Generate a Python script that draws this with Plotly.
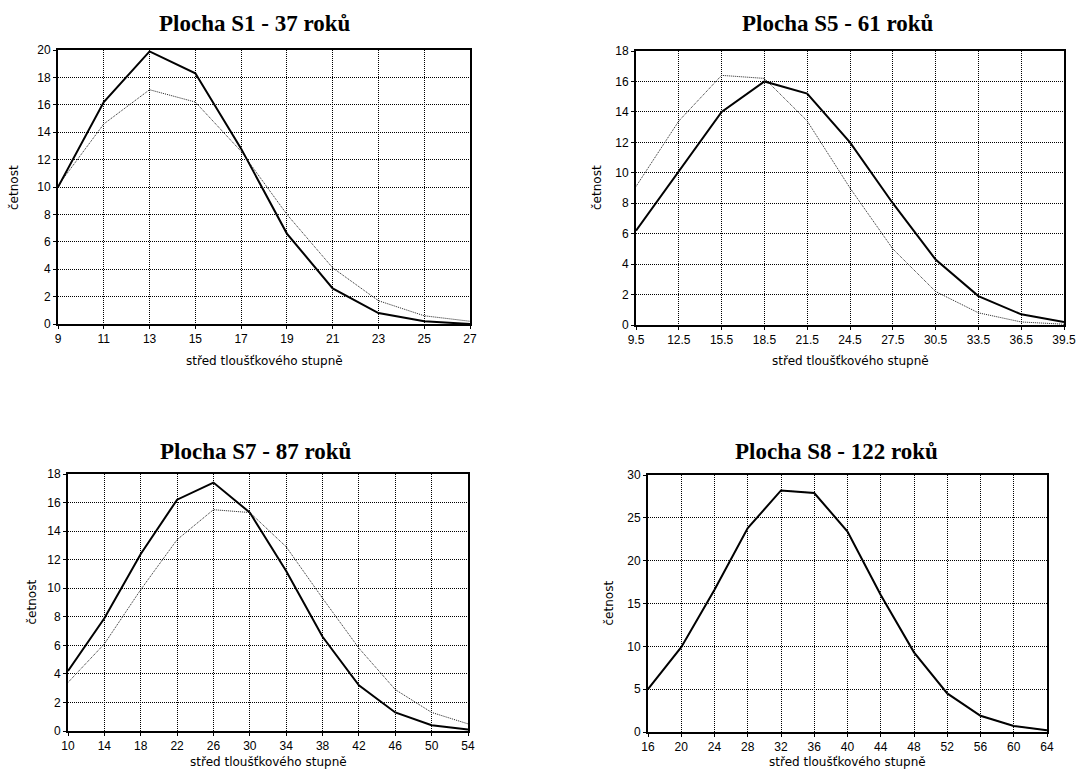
import plotly.graph_objects as go

# ---- data ----
s1_x = [9, 11, 13, 15, 17, 19, 21, 23, 25, 27]
s1_obs = [10.0, 16.2, 19.9, 18.3, 12.8, 6.6, 2.6, 0.8, 0.2, 0.0]
s1_fit = [10.1, 14.6, 17.1, 16.2, 12.6, 8.0, 4.1, 1.7, 0.6, 0.2]

s5_x = [9.5, 12.5, 15.5, 18.5, 21.5, 24.5, 27.5, 30.5, 33.5, 36.5, 39.5]
s5_obs = [6.2, 10.1, 14.0, 16.0, 15.2, 12.0, 8.0, 4.3, 1.9, 0.7, 0.2]
s5_fit = [9.1, 13.4, 16.4, 16.2, 13.4, 9.0, 5.0, 2.2, 0.8, 0.2, 0.05]

s7_x = [10, 14, 18, 22, 26, 30, 34, 38, 42, 46, 50, 54]
s7_obs = [4.2, 7.9, 12.4, 16.2, 17.4, 15.3, 11.2, 6.6, 3.2, 1.3, 0.4, 0.1]
s7_fit = [3.4, 6.1, 9.9, 13.4, 15.5, 15.3, 12.9, 9.3, 5.8, 2.9, 1.3, 0.5]

s8_x = [16, 20, 24, 28, 32, 36, 40, 44, 48, 52, 56, 60, 64]
s8_obs = [5.0, 9.9, 16.6, 23.8, 28.2, 27.9, 23.4, 16.0, 9.3, 4.5, 1.9, 0.7, 0.2]
s8_fit = [5.0, 9.9, 16.6, 23.8, 28.2, 27.9, 23.4, 16.0, 9.3, 4.5, 1.9, 0.7, 0.2]

titles = ["Plocha S1 - 37 roků", "Plocha S5 - 61 roků",
          "Plocha S7 - 87 roků", "Plocha S8 - 122 roků"]
x_label = "střed tloušťkového stupně"
y_label = "četnost"

W, H = 1077, 769

def px(v):
    return v / W

def py(v):
    return 1 - v / H

panels = [
    dict(x=s1_x, obs=s1_obs, fit=s1_fit, xd=(58, 470), yd=(50, 324),
         xr=(9, 27), yr=(0, 20), ydt=2, xticks=s1_x,
         ytitle_x=14, title_x=254, title_y=23, xt_y=361),
    dict(x=s5_x, obs=s5_obs, fit=s5_fit, xd=(636, 1064), yd=(51, 325),
         xr=(9.5, 39.5), yr=(0, 18), ydt=2, xticks=s5_x,
         ytitle_x=597, title_y=23, title_x=838, xt_y=361),
    dict(x=s7_x, obs=s7_obs, fit=s7_fit, xd=(68, 468), yd=(474, 731),
         xr=(10, 54), yr=(0, 18), ydt=2, xticks=s7_x,
         ytitle_x=31, title_x=255, title_y=451, xt_y=762),
    dict(x=s8_x, obs=s8_obs, fit=s8_fit, xd=(648, 1047), yd=(475, 732),
         xr=(16, 64), yr=(0, 30), ydt=5, xticks=s8_x,
         ytitle_x=608, title_x=836, title_y=451, xt_y=762),
]

fig = go.Figure()
annotations = []
layout = {}
tick_font = dict(family="Liberation Sans, Arial, sans-serif", size=12, color="black")
label_font = dict(family="DejaVu Sans, sans-serif", size=12, color="black")
grid_dash = "1px,1px"

for i, p in enumerate(panels):
    n = "" if i == 0 else str(i + 1)
    xa = "x" + n
    ya = "y" + n
    fig.add_trace(go.Scatter(x=p["x"], y=p["fit"], mode="lines", xaxis=xa, yaxis=ya,
                             line=dict(color="#222222", width=1, dash="1px,1px"),
                             showlegend=False))
    fig.add_trace(go.Scatter(x=p["x"], y=p["obs"], mode="lines", xaxis=xa, yaxis=ya,
                             line=dict(color="black", width=2), showlegend=False))
    layout["xaxis" + n] = dict(
        domain=[px(p["xd"][0]), px(p["xd"][1])], anchor=ya, range=list(p["xr"]),
        tickmode="array", tickvals=p["xticks"], ticktext=[str(v) for v in p["xticks"]],
        showgrid=True, gridcolor="black", gridwidth=1, griddash=grid_dash,
        showline=True, linecolor="black", linewidth=2, mirror=True,
        ticks="outside", ticklen=3, tickcolor="black", tickfont=tick_font,
        zeroline=False, fixedrange=True)
    layout["yaxis" + n] = dict(
        domain=[py(p["yd"][1]), py(p["yd"][0])], anchor=xa, range=list(p["yr"]),
        dtick=p["ydt"], tick0=0,
        showgrid=True, gridcolor="black", gridwidth=1, griddash=grid_dash,
        showline=True, linecolor="black", linewidth=2, mirror=True,
        ticks="outside", ticklen=3, tickcolor="black", tickfont=tick_font,
        zeroline=False, fixedrange=True)
    cx = (p["xd"][0] + p["xd"][1]) / 2
    annotations.append(dict(text="<b>" + titles[i] + "</b>", x=px(p["title_x"]), y=py(p["title_y"]),
                            xref="paper", yref="paper", showarrow=False,
                            xanchor="center", yanchor="middle",
                            font=dict(family="Liberation Serif, Times New Roman, serif",
                                      size=23, color="black")))
    annotations.append(dict(text=x_label, x=px(cx), y=py(p["xt_y"]),
                            xref="paper", yref="paper", showarrow=False,
                            xanchor="center", yanchor="middle", font=label_font))
    cy = (p["yd"][0] + p["yd"][1]) / 2
    annotations.append(dict(text=y_label, x=px(p["ytitle_x"]), y=py(cy),
                            xref="paper", yref="paper", showarrow=False, textangle=-90,
                            xanchor="center", yanchor="middle", font=label_font))

fig.update_layout(width=W, height=H,
                  margin=dict(l=0, r=0, t=0, b=0, pad=0, autoexpand=False),
                  paper_bgcolor="white", plot_bgcolor="white",
                  annotations=annotations, **layout)

fig.write_html("out.html", config={"displayModeBar": False})
